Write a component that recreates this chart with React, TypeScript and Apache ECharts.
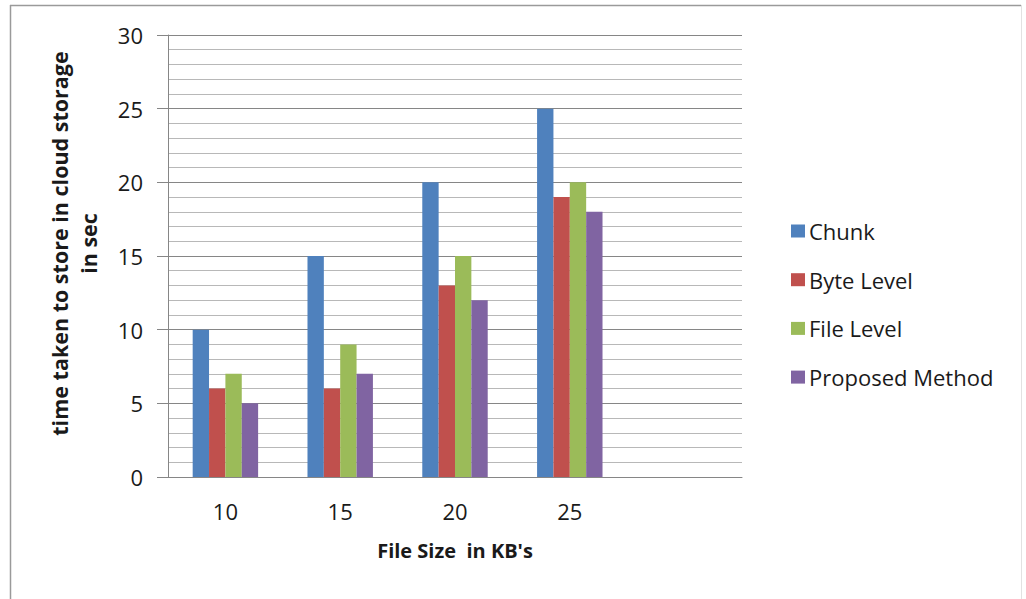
import React, { useEffect, useRef } from "react";
import * as echarts from "echarts";

// File sizes (KB) along the category axis; the last slot is left empty.
const categories = ["10", "15", "20", "25", ""];

// Time taken to store in cloud storage (sec) for each method.
const chunk = [10, 15, 20, 25];
const byteLevel = [6, 6, 13, 19];
const fileLevel = [7, 9, 15, 20];
const proposedMethod = [5, 7, 12, 18];

const seriesNames = ["Chunk", "Byte Level", "File Level", "Proposed Method"];
const seriesColors = ["#4F81BD", "#C0504D", "#9BBB59", "#8064A2"];

const yTicks = { min: 0, max: 30, interval: 5 };

const FONT = "'Open Sans', 'Noto Sans', sans-serif";

export default function App() {
  const ref = useRef<HTMLDivElement>(null);

  useEffect(() => {
    document.body.style.margin = "0";
    if (!ref.current) return;
    const chart = echarts.init(ref.current, null, { renderer: "svg" });

    const values = [chunk, byteLevel, fileLevel, proposedMethod];

    chart.setOption({
      animation: false,
      backgroundColor: "#ffffff",
      color: seriesColors,
      textStyle: { fontFamily: FONT },
      grid: { left: 168, right: 284, top: 35, bottom: 122, containLabel: false },
      legend: {
        orient: "vertical",
        left: 786,
        top: 215,
        itemWidth: 14,
        itemHeight: 13,
        itemGap: 26.7,
        icon: "rect",
        textStyle: {
          fontFamily: FONT,
          fontSize: 22,
          lineHeight: 22,
          color: "#1a1a1a",
          padding: [0, 0, 0, -1],
        },
        data: seriesNames,
      },
      xAxis: {
        type: "category",
        data: categories,
        boundaryGap: true,
        axisLine: { show: true, lineStyle: { color: "#868686", width: 1 } },
        axisTick: { show: false },
        axisLabel: {
          margin: 23,
          fontFamily: FONT,
          fontSize: 22,
          color: "#1a1a1a",
        },
        splitLine: { show: false },
        name: "File Size  in KB's",
        nameLocation: "middle",
        nameGap: 63,
        nameTextStyle: {
          fontFamily: FONT,
          fontSize: 20,
          fontWeight: "bold",
          color: "#1a1a1a",
        },
      },
      yAxis: {
        type: "value",
        min: yTicks.min,
        max: yTicks.max,
        interval: yTicks.interval,
        axisLine: { show: true, lineStyle: { color: "#868686", width: 1 } },
        axisTick: { show: true, length: 11, lineStyle: { color: "#868686" } },
        axisLabel: {
          margin: 25,
          fontFamily: FONT,
          fontSize: 22,
          color: "#1a1a1a",
        },
        splitLine: { show: true, lineStyle: { color: "#868686", width: 1 } },
        minorTick: { show: false, splitNumber: 5 },
        minorSplitLine: { show: true, lineStyle: { color: "#b8b8b8", width: 1 } },
      },
      series: seriesNames.map((name, i) => ({
        name,
        type: "bar",
        data: values[i],
        barGap: "0%",
        barCategoryGap: "43%",
        itemStyle: { color: seriesColors[i] },
      })),
      graphic: [
        {
          type: "line",
          shape: { x1: 10.5, y1: 5, x2: 10.5, y2: 599 },
          style: { stroke: "#9a9a9a", lineWidth: 1.5 },
          silent: true,
        },
        {
          type: "line",
          shape: { x1: 10, y1: 5.5, x2: 1021, y2: 5.5 },
          style: { stroke: "#9a9a9a", lineWidth: 1.5 },
          silent: true,
        },
        {
          type: "line",
          shape: { x1: 1021.5, y1: 5, x2: 1021.5, y2: 599 },
          style: { stroke: "#e2e2e2", lineWidth: 1 },
          silent: true,
        },
        {
          type: "text",
          x: 74,
          y: 243.5,
          rotation: Math.PI / 2,
          style: {
            text: "time taken to store in cloud storage\nin sec",
            font: `bold 21.5px ${FONT}`,
            textAlign: "center",
            textVerticalAlign: "middle",
            lineHeight: 29,
            fill: "#1a1a1a",
          },
          silent: true,
        },
      ],
    });

    return () => chart.dispose();
  }, []);

  return (
    <div
      ref={ref}
      style={{ position: "fixed", left: 0, top: 0, width: 1026, height: 599 }}
    />
  );
}
